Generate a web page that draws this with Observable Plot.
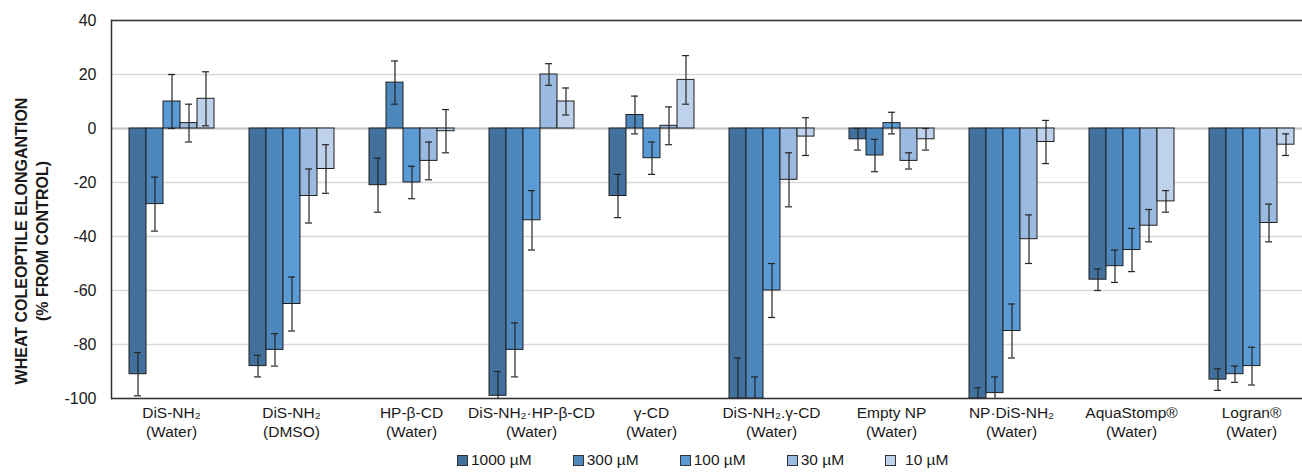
<!DOCTYPE html>
<html>
<head>
<meta charset="utf-8">
<script src="https://cdn.jsdelivr.net/npm/d3@7"></script>
<script src="https://cdn.jsdelivr.net/npm/@observablehq/plot@0.6"></script>
<style>
  html, body { margin: 0; padding: 0; background: #fff; overflow: hidden; width: 1302px; height: 473px; }
  body { font-family: "Liberation Sans", Arial, sans-serif; color: #1a1a1a; }
  #chart { width: 1302px; overflow: hidden; }
  #chart svg { display: block; max-width: none !important; width: 1312px !important; height: 445px !important; }
  #legend { display: flex; align-items: center; height: 28px; padding-left: 457px; font-size: 15.5px; box-sizing: border-box; padding-top: 2px; }
  #legend .item { display: flex; align-items: center; margin-right: 41px; }
  #legend .sw { width: 9px; height: 9px; border: 1px solid #333; margin-right: 3px; }
  #legend .item:last-child .sw { margin-right: 9px; }
</style>
</head>
<body>
<div id="chart"></div>
<div id="legend"></div>
<script>
// ---- data ----
const names = ["DiS-NH₂", "DiS-NH₂", "HP-β-CD", "DiS-NH₂·HP-β-CD", "γ-CD", "DiS-NH₂.γ-CD", "Empty NP", "NP·DiS-NH₂", "AquaStomp®", "Logran®"];
const solvents = ["Water", "DMSO", "Water", "Water", "Water", "Water", "Water", "Water", "Water", "Water"];
const concs = ["1000 µM", "300 µM", "100 µM", "30 µM", "10 µM"];
const colors = ["#42719e", "#4d87bc", "#5b9bd5", "#9abae0", "#bed2ec"];

const v1000 = [-91, -88, -21, -99, -25, -100, -4, -100, -56, -93];
const v300  = [-28, -82, 17, -82, 5, -100, -10, -98, -51, -91];
const v100  = [10, -65, -20, -34, -11, -60, 2, -75, -45, -88];
const v30   = [2, -25, -12, 20, 1, -19, -12, -41, -36, -35];
const v10   = [11, -15, -1, 10, 18, -3, -4, -5, -27, -6];

const e1000 = [8, 4, 10, 9, 8, 15, 4, 4, 4, 4];
const e300  = [10, 6, 8, 10, 7, 8, 6, 6, 6, 3];
const e100  = [10, 10, 6, 11, 6, 10, 4, 10, 8, 7];
const e30   = [7, 10, 7, 4, 7, 10, 3, 9, 6, 7];
const e10   = [10, 9, 8, 5, 9, 7, 4, 8, 4, 4];

const yTicks = [-100, -80, -60, -40, -20, 0, 20, 40];
const yTitle = ["WHEAT COLEOPTILE ELONGANTION", "(% FROM CONTROL)"];

// ---- table ----
const groups = names.map((n, i) => `${n}\n(${solvents[i]})`);
const series = [v1000, v300, v100, v30, v10];
const errs = [e1000, e300, e100, e30, e10];
const data = [];
groups.forEach((g, gi) => {
  concs.forEach((c, ci) => {
    data.push({group: g, conc: c, value: series[ci][gi], err: errs[ci][gi]});
  });
});

const plot = Plot.plot({
  width: 1312,
  height: 445,
  marginLeft: 110,
  marginRight: 0,
  marginTop: 20,
  marginBottom: 47,
  style: {fontFamily: "Liberation Sans, Arial, sans-serif", color: "#1a1a1a", background: "transparent"},
  fx: {domain: groups, padding: 0, label: null},
  x: {domain: concs, paddingInner: 0, paddingOuter: 0.967, axis: null},
  y: {domain: [-100, 40], label: null},
  color: {domain: concs, range: colors},
  marks: [
    Plot.gridY(yTicks, {stroke: "#d9d9d9", strokeOpacity: 1, strokeWidth: 1.3}),
    Plot.ruleY([0], {stroke: "#c4c4c4", strokeWidth: 2}),
    Plot.barY(data, {fx: "group", x: "conc", y: "value", fill: "conc", stroke: "#1f1f1f", strokeWidth: 1, clip: true}),
    Plot.ruleX(data, {fx: "group", x: "conc", y1: d => d.value - d.err, y2: d => d.value + d.err, stroke: "#262626", strokeWidth: 1.2, clip: true}),
    Plot.tickY(data, {fx: "group", x: "conc", y: d => d.value - d.err, insetLeft: 5, insetRight: 5, stroke: "#262626", strokeWidth: 1.2, clip: true}),
    Plot.tickY(data, {fx: "group", x: "conc", y: d => d.value + d.err, insetLeft: 5, insetRight: 5, stroke: "#262626", strokeWidth: 1.2, clip: true}),
    Plot.ruleY([40, -100], {stroke: "#333", strokeWidth: 1.5}),
    Plot.frame({anchor: "left", facetAnchor: "left", stroke: "#333", strokeWidth: 1.5}),
    Plot.axisY(yTicks, {tickSize: 0, tickPadding: 15, fontSize: 16, fill: "#1a1a1a", tickFormat: d => String(d)}),
    Plot.axisFx({anchor: "bottom", tickSize: 0, tickPadding: 6, fontSize: 15.5, lineHeight: 1.23, fill: "#1a1a1a", label: null})
  ]
});

document.getElementById("chart").appendChild(plot);

// y-axis title (two lines, rotated)
const svg = d3.select(plot);
const yMid = 241;
[[21, yTitle[0]], [42, yTitle[1]]].forEach(([x, t]) => {
  svg.append("text")
    .attr("transform", `translate(${x},${yMid}) rotate(-90)`)
    .attr("text-anchor", "middle")
    .attr("dominant-baseline", "central")
    .attr("font-size", 16)
    .attr("font-weight", "bold")
    .attr("fill", "#1a1a1a")
    .text(t);
});

// legend
const leg = d3.select("#legend");
concs.forEach((c, i) => {
  const it = leg.append("div").attr("class", "item");
  it.append("div").attr("class", "sw").style("background", colors[i]);
  it.append("span").text(c);
});
</script>
</body>
</html>
